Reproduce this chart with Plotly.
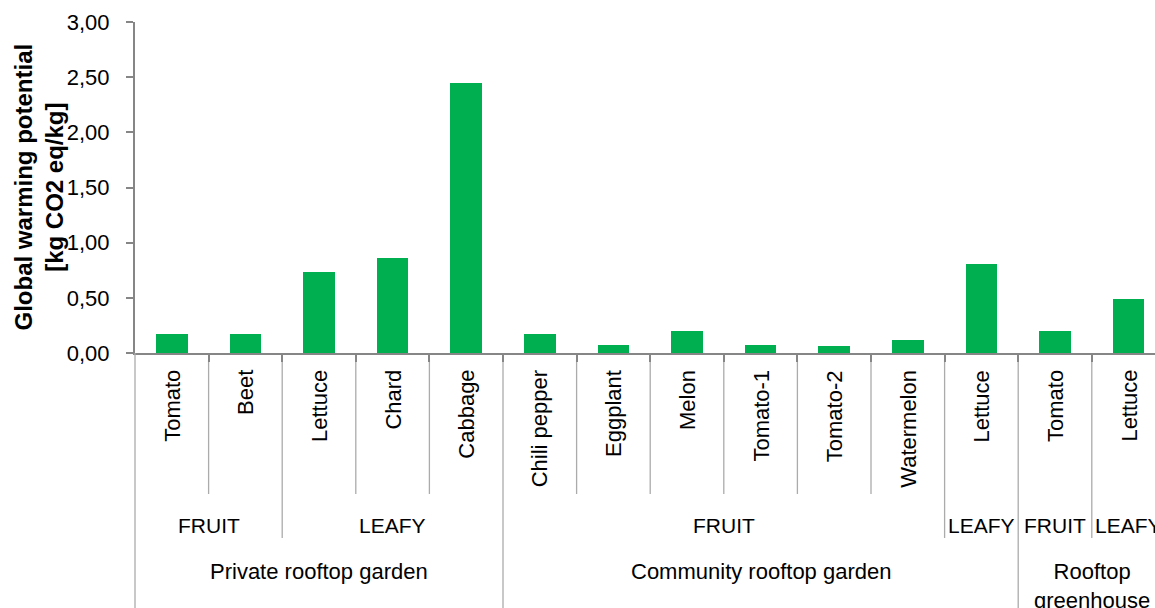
import plotly.graph_objects as go

# ---------------- data ----------------
crops = ["Tomato", "Beet", "Lettuce", "Chard", "Cabbage",
         "Chili pepper", "Eggplant", "Melon", "Tomato-1", "Tomato-2", "Watermelon", "Lettuce",
         "Tomato", "Lettuce"]
crop_types = ["FRUIT", "FRUIT", "LEAFY", "LEAFY", "LEAFY",
              "FRUIT", "FRUIT", "FRUIT", "FRUIT", "FRUIT", "FRUIT", "LEAFY",
              "FRUIT", "LEAFY"]
systems = ["Private rooftop garden"] * 5 + ["Community rooftop garden"] * 7 + ["Rooftop<br>greenhouse"] * 2
gwp = [0.17, 0.17, 0.73, 0.86, 2.45,
       0.17, 0.07, 0.20, 0.07, 0.06, 0.12, 0.81,
       0.20, 0.49]
y_tickvals = [0, 0.5, 1.0, 1.5, 2.0, 2.5, 3.0]
y_ticktext = ["0,00", "0,50", "1,00", "1,50", "2,00", "2,50", "3,00"]
y_title = "Global warming potential<br>[kg CO2 eq/kg]"

# ---------------- styling / geometry ----------------
W, H = 1155, 608
M_L, M_T = 135, 22
PLOT_H = 331
PLOT_BOTTOM = M_T + PLOT_H
CAT_W = 73.6                      # pixel width of one category
n = len(crops)
idx = list(range(n))
x_max = -0.5 + (W - M_L) / CAT_W  # right side of the chart is cut off, as in the original

GREEN = "#00B050"
AXIS = "#868686"
SEP = "#ababab"
FONT = "Liberation Sans"


def py(Y):
    """pixel row -> paper y"""
    return (PLOT_BOTTOM - Y) / PLOT_H


def runs(keys):
    out, start = [], 0
    for i in range(1, len(keys) + 1):
        if i == len(keys) or keys[i] != keys[start]:
            out.append((start, i - 1, keys[start]))
            start = i
    return out


type_keys = list(zip(systems, crop_types))

fig = go.Figure()
fig.add_trace(go.Bar(x=idx, y=gwp, width=0.43, marker=dict(color=GREEN, line=dict(width=0)),
                     hoverinfo="skip"))

shapes = []
# separators below the axis
for i in range(1, n):
    b = i - 0.5
    if systems[i] != systems[i - 1]:
        bottom = py(640)
    elif crop_types[i] != crop_types[i - 1]:
        bottom = py(538)
    else:
        bottom = py(494)
    shapes.append(dict(type="line", xref="x", yref="paper", x0=b, x1=b, y0=py(PLOT_BOTTOM + 7),
                       y1=bottom, line=dict(color=SEP, width=1.3), layer="below"))
# left border line continuing the y axis
shapes.append(dict(type="line", xref="paper", yref="paper", x0=0, x1=0, y0=0, y1=py(640),
                   line=dict(color=SEP, width=1.3)))

annotations = []
# crop labels (rotated)
for i, c in enumerate(crops):
    annotations.append(dict(x=i, xref="x", y=py(368), yref="paper", text=c, textangle=-90,
                            showarrow=False, xanchor="center", yanchor="top",
                            font=dict(family=FONT, size=22, color="#000")))
# crop type labels
for s, e, (sysname, t) in runs(type_keys):
    annotations.append(dict(x=(s + e) / 2, xref="x", y=py(525), yref="paper", text=t,
                            showarrow=False, xanchor="center", yanchor="middle",
                            font=dict(family=FONT, size=21, color="#000")))
# system labels
for s, e, sysname in runs(systems):
    annotations.append(dict(x=(s + e) / 2, xref="x", y=py(557), yref="paper", text=sysname,
                            showarrow=False, xanchor="center", yanchor="top",
                            font=dict(family=FONT, size=22, color="#000")))
# y axis title
annotations.append(dict(x=0, xref="paper", xshift=38 - M_L, y=0.5, yref="paper",
                        text="<b>" + y_title.replace("<br>", "</b><br><b>") + "</b>",
                        textangle=-90, showarrow=False, xanchor="center", yanchor="middle",
                        font=dict(family=FONT, size=24, color="#000")))

fig.update_layout(
    width=W, height=H,
    margin=dict(l=M_L, r=0, t=M_T, b=H - PLOT_BOTTOM, autoexpand=False),
    paper_bgcolor="white", plot_bgcolor="white",
    showlegend=False,
    bargap=0,
    xaxis=dict(range=[-0.5, x_max], tickmode="array", tickvals=[i - 0.5 for i in range(1, n)],
               showticklabels=False, ticks="outside", ticklen=7, tickwidth=1.5, tickcolor=AXIS,
               showline=True, linecolor=AXIS, linewidth=2, showgrid=False, zeroline=False,
               fixedrange=True),
    yaxis=dict(range=[0, 3], tickmode="array", tickvals=y_tickvals, ticktext=y_ticktext,
               ticks="outside", ticklen=7, tickwidth=1.5, tickcolor=AXIS,
               showline=True, linecolor=AXIS, linewidth=2, showgrid=False, zeroline=False,
               tickfont=dict(family=FONT, size=22, color="#000"), ticklabelstandoff=12,
               fixedrange=True),
    shapes=shapes,
    annotations=annotations,
)

fig.write_html("out.html", config={"displayModeBar": False},
               post_script="document.body.style.margin='0';document.body.style.overflow='hidden';")
